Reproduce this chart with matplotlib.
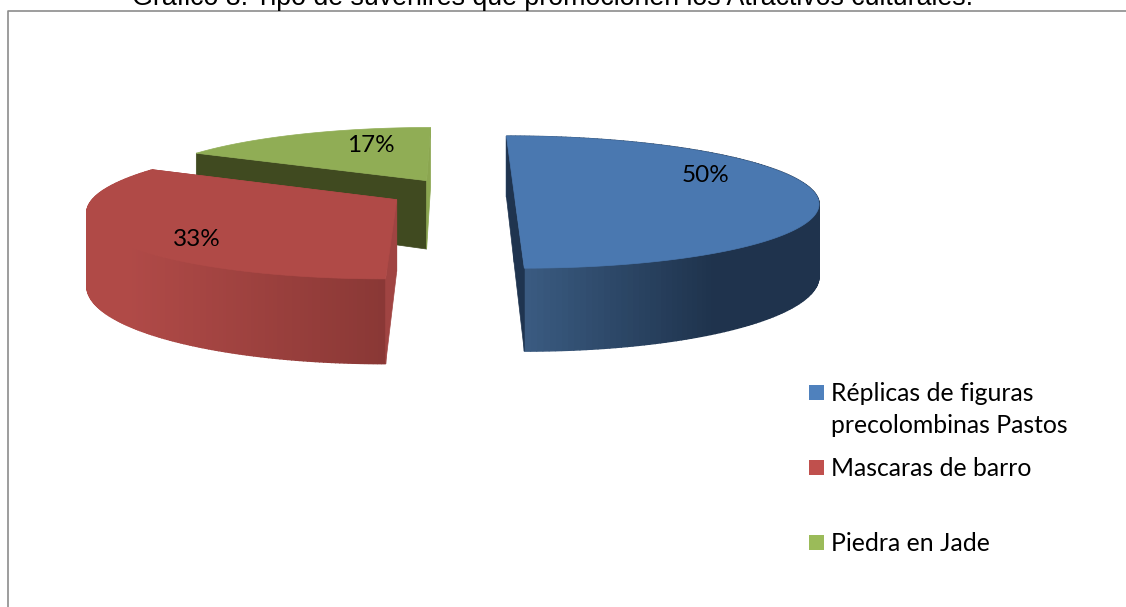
import numpy as np
import matplotlib
matplotlib.use('Agg')
import matplotlib.pyplot as plt
from matplotlib.patches import Polygon, Rectangle

title = 'Gráfico 8. Tipo de suvenires que promocionen los Atractivos culturales.'
categories = ['Réplicas de figuras\nprecolombinas Pastos', 'Mascaras de barro', 'Piedra en Jade']
percent = [50, 33, 17]

# estilos por porción
top_colors = ['#4a78b0', '#b04a47', '#90ad55']
legend_colors = ['#4f81bd', '#c0504d', '#9bbb59']
side_left = [(0.23, 0.36, 0.51), (0.69, 0.29, 0.28), (0.25, 0.29, 0.13)]
side_right = [(0.12, 0.20, 0.30), (0.54, 0.22, 0.21), (0.25, 0.29, 0.13)]
inner_first = ['#1f344f', '#a04442', '#404a20']
inner_last = ['#1f344f', '#a04442', '#8ba650']
explode = [0.19, 0.23, 0.21]
radius_x = [300, 299, 292]
label_pos = [(706, 176), (197, 239), (371, 146)]
legend_y = [392, 467, 542]

# proyección en perspectiva del disco
x0, y0, ry, depth, k = 457, 192, 64.5, 70.3, 0.153


def project(X, Y, z):
    s = 1 / (1 - k * Y)
    return x0 + X * s, y0 + Y * ry * s + z * depth * s


fig = plt.figure(figsize=(11.26, 6.07), dpi=100)
ax = fig.add_axes([0, 0, 1, 1])
ax.set_xlim(0, 1126)
ax.set_ylim(607, 0)
ax.axis('off')

# marco
ax.plot([7.5, 7.5, 1126], [607, 11, 11], color='#8c8c8c', lw=1.2)

shares = np.array(percent) / sum(percent)
stops = np.concatenate([[0], np.cumsum(shares)]) * 2 * np.pi
mid = (stops[:-1] + stops[1:]) / 2


def wedge(i):
    rx = radius_x[i]
    ox = np.sin(mid[i]) * explode[i]
    oy = -np.cos(mid[i]) * explode[i]
    a = np.linspace(stops[i], stops[i + 1], 180)
    return a, ox * rx + rx * np.sin(a), oy - np.cos(a), ox * rx, oy


def draw_slice(i, zorder):
    a, X, Y, ax_x, ax_y = wedge(i)
    # borde curvo con degradado
    if i < 2:
        xt, yt = project(X, Y, 0)
        xb, yb = project(X, Y, 1)
        if i == 0:
            t = np.clip((xt - xt[-1]) / 190, 0, 1)
        else:
            t = np.clip((xt - 130) / (xt[0] - 130), 0, 1)
        for j in range(len(a) - 1):
            c = np.array(side_left[i]) * (1 - t[j]) + np.array(side_right[i]) * t[j]
            quad = [(xt[j], yt[j]), (xt[j + 1], yt[j + 1]), (xb[j + 1], yb[j + 1]), (xb[j], yb[j])]
            ax.add_patch(Polygon(quad, fc=c, ec=c, lw=1.0, zorder=zorder))
    # caras interiores
    for j, col in [(0, inner_first[i]), (-1, inner_last[i])]:
        xs, ys = project(np.array([ax_x, X[j], X[j], ax_x]), np.array([ax_y, Y[j], Y[j], ax_y]), np.array([0, 0, 1, 1]))
        ax.add_patch(Polygon(np.column_stack([xs, ys]), fc=col, ec=col, lw=0.5, zorder=zorder + 0.1))
    # cara superior
    xt, yt = project(np.r_[ax_x, X], np.r_[ax_y, Y], 0)
    ax.add_patch(Polygon(np.column_stack([xt, yt]), fc=top_colors[i], ec=top_colors[i], lw=0.5, zorder=zorder + 0.2))


# de atrás hacia adelante
draw_slice(2, 2)
draw_slice(1, 3)
draw_slice(0, 4)

for p, pos in zip(percent, label_pos):
    ax.text(pos[0], pos[1], f'{p}%', fontsize=17.5, family='Lato', ha='center', va='center', color='black', zorder=10)

ax.text(553, 5, title, fontsize=19.3, family='Liberation Sans', ha='center', va='baseline', color='black')

for name, c, y in zip(categories, legend_colors, legend_y):
    ax.add_patch(Rectangle((809, y - 7.5), 15, 15, fc=c, ec='none'))
    ax.text(831, y - 10, name, fontsize=17.8, family='Lato', ha='left', va='top', color='black', linespacing=1.48)

fig.savefig('out.png', dpi=100)
